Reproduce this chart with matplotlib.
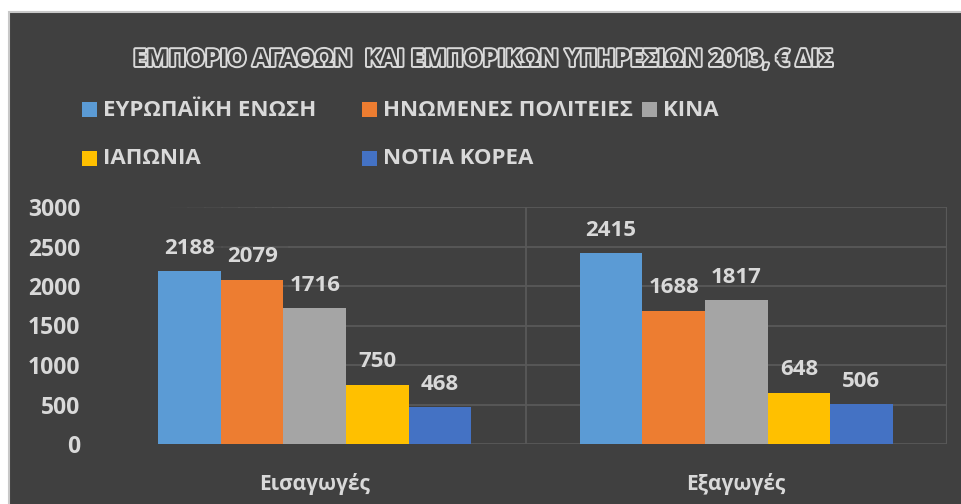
import numpy as np
import matplotlib
matplotlib.use('Agg')
import matplotlib.pyplot as plt
import matplotlib.patheffects as pe
from matplotlib.patches import Rectangle

plt.rcParams['font.family'] = ['Open Sans', 'DejaVu Sans']

## data
categories = ['Εισαγωγές', 'Εξαγωγές']
countries = ['ΕΥΡΩΠΑΪΚΗ ΕΝΩΣΗ', 'ΗΝΩΜΕΝΕΣ ΠΟΛΙΤΕΙΕΣ', 'ΚΙΝΑ', 'ΙΑΠΩΝΙΑ', 'ΝΟΤΙΑ ΚΟΡΕΑ']
eu = [2188, 2415]
usa = [2079, 1688]
china = [1716, 1817]
japan = [750, 648]
korea = [468, 506]
series = [eu, usa, china, japan, korea]
colors = ['#5b9bd5', '#ed7d31', '#a5a5a5', '#ffc000', '#4472c4']
yticks = [0, 500, 1000, 1500, 2000, 2500, 3000]

title = 'ΕΜΠΟΡΙΟ ΑΓΑΘΩΝ  ΚΑΙ ΕΜΠΟΡΙΚΩΝ ΥΠΗΡΕΣΙΩΝ 2013, € ΔΙΣ'

bg = '#404040'
txt = '#d9d9d9'
grid = '#595959'

W, H = 961, 504
fig = plt.figure(figsize=(W/100, H/100), dpi=100, facecolor='white')

# dark chart panel with light border
fig.patches.append(Rectangle((9/W, -0.01), 1.0, (H-12)/H + 0.01, transform=fig.transFigure,
                             facecolor=bg, edgecolor='#c8c8c8', linewidth=1.5, zorder=-5))

ax = fig.add_axes([104/W, 60/H, 843/W, 237/H])
ax.set_facecolor('none')

x = np.arange(len(categories))
w = 0.1485
for i, vals in enumerate(series):
    xs = x + (i - 2) * w
    ax.bar(xs, vals, width=w, color=colors[i], zorder=3)
    for xi, v in zip(xs, vals):
        ax.annotate(str(v), (xi, v), xytext=(0, 12.5), textcoords='offset points',
                    ha='center', va='baseline', fontsize=16, fontweight='bold', color=txt)

ax.set_xlim(-0.5, 1.5)
ax.set_ylim(0, 3000)
ax.set_yticks(yticks)
ax.set_xticks(x)
ax.set_xticklabels(categories)
for s in ax.spines.values():
    s.set_visible(False)
ax.tick_params(axis='both', length=0, colors=txt)
ax.tick_params(axis='y', labelsize=16.5, pad=17)
ax.tick_params(axis='x', labelsize=15, pad=21)
for lb in ax.get_yticklabels() + ax.get_xticklabels():
    lb.set_fontweight('bold')

# gridlines fading in from the left, like the original screenshot
steps = np.linspace(0.08, 0.22, 8)
for yv in yticks:
    for k in range(len(steps) - 1):
        ax.axhline(yv, xmin=steps[k], xmax=steps[k+1], color=grid, lw=1.3,
                   alpha=(k + 1) / len(steps), zorder=1)
    ax.axhline(yv, xmin=steps[-1], xmax=1, color=grid, lw=1.3, zorder=1)
ax.axvline(0.5, color=grid, lw=1.3, zorder=1)
ax.axvline(1.5, color=grid, lw=1.6, zorder=1)

# title: outlined text
fig.text(483/W, 1 - 60/H, title, ha='center', va='center', fontsize=17, fontweight='bold',
         color=bg, path_effects=[pe.withStroke(linewidth=2.8, foreground=txt)])

# legend, row-major like the original
for i, name in enumerate(countries):
    col, row = i % 3, i // 3
    mx = 82 + col * 280
    my = 110 + row * 49
    fig.patches.append(Rectangle((mx/W, 1 - (my + 7)/H), 15/W, 15/H, transform=fig.transFigure,
                                 facecolor=colors[i], edgecolor='none'))
    fig.text((mx + 21)/W, 1 - my/H, name, ha='left', va='center', fontsize=16,
             fontweight='bold', color=txt)

fig.savefig('out.png', dpi=100, facecolor=fig.get_facecolor())
